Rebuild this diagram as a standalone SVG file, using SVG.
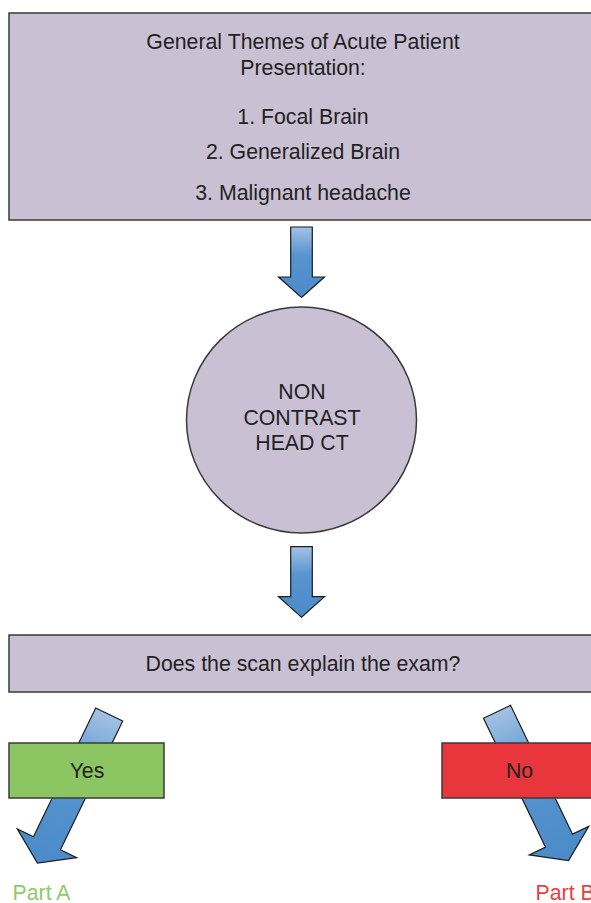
<svg xmlns="http://www.w3.org/2000/svg" width="591" height="903" viewBox="0 0 591 903">
  <style>
    .box { fill: #c9c1d3; stroke: #3a3a3a; stroke-width: 1.5; }
    .arrow { fill: url(#arrowGrad); stroke: #1c1c1c; stroke-width: 1.2; stroke-linejoin: miter; }
    .t { font-family: "Liberation Sans", Arial, sans-serif; font-size: 21.3px; fill: #222222; text-anchor: middle; }
  </style>
  <defs>
    <linearGradient id="arrowGrad" x1="0" y1="0" x2="0" y2="1">
      <stop offset="0" stop-color="#a3c2e3"/>
      <stop offset="0.4" stop-color="#5894cf"/>
      <stop offset="1" stop-color="#4a8bc9"/>
    </linearGradient>
    <polygon id="vArrow" points="-10.8,0 10.8,0 10.8,50 23,50 0,70.5 -23,50 -10.8,50"/>
    <polygon id="dArrow" points="-15,0 15,0 15,143 33,143 0,165 -33,143 -15,143"/>
  </defs>
  <rect width="591" height="903" fill="#ffffff"/>

  <g id="connectors">
    <use href="#vArrow" class="arrow" transform="translate(301.5,227)"/>
    <use href="#vArrow" class="arrow" transform="translate(301.5,546.7)"/>
    <use href="#dArrow" class="arrow" transform="translate(109.2,714.5) rotate(25.8)"/>
    <use href="#dArrow" class="arrow" transform="translate(497,711.8) rotate(-25.7)"/>
  </g>

  <g id="themes">
    <rect class="box" x="9" y="13" width="590" height="207"/>
    <text class="t" x="303" y="49">General Themes of Acute Patient</text>
    <text class="t" x="303" y="75">Presentation:</text>
    <text class="t" x="303" y="124">1. Focal Brain</text>
    <text class="t" x="303" y="159">2. Generalized Brain</text>
    <text class="t" x="303" y="200">3. Malignant headache</text>
  </g>

  <g id="ct">
    <ellipse class="box" cx="301.5" cy="420" rx="115" ry="113"/>
    <text class="t" x="302" y="399">NON</text>
    <text class="t" x="302" y="425">CONTRAST</text>
    <text class="t" x="302" y="450">HEAD CT</text>
  </g>

  <g id="question">
    <rect class="box" x="9" y="635" width="590" height="57"/>
    <text class="t" x="303" y="671">Does the scan explain the exam?</text>
  </g>

  <g id="yes">
    <rect x="9" y="743" width="155" height="55" fill="#8bc663" stroke="#3a3a3a" stroke-width="1.5"/>
    <text class="t" x="87" y="778">Yes</text>
  </g>

  <g id="no">
    <rect x="442" y="743" width="155" height="55" fill="#e8363c" stroke="#3a3a3a" stroke-width="1.5"/>
    <text class="t" x="519.5" y="778">No</text>
  </g>

  <g id="partA">
    <text class="t" x="12.5" y="900" style="text-anchor:start; fill:#8dcb6b">Part A</text>
  </g>

  <g id="partB">
    <text class="t" x="535.5" y="900" style="text-anchor:start; fill:#e8403f">Part B</text>
  </g>
</svg>
